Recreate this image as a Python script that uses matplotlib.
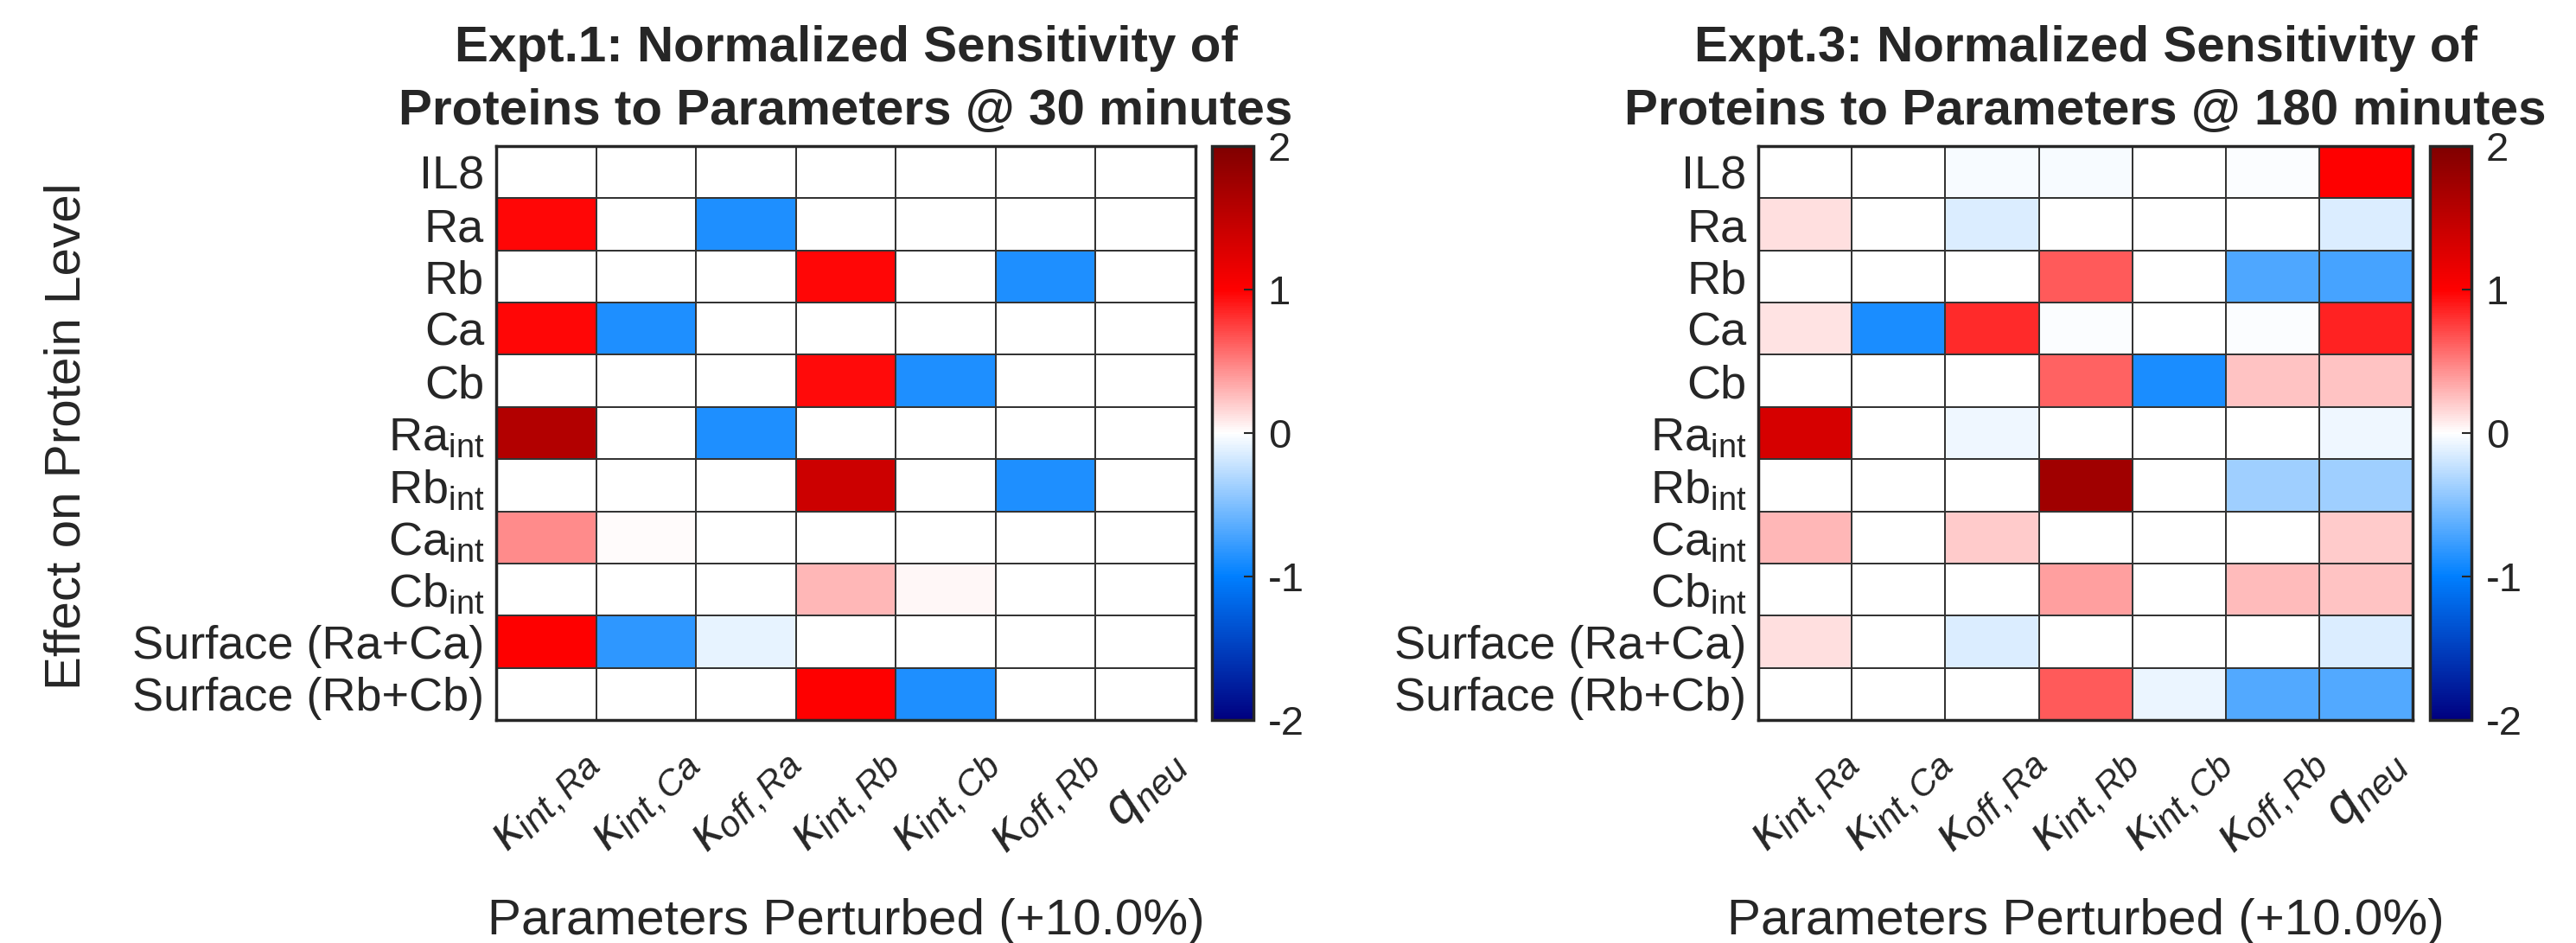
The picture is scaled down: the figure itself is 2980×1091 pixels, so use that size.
import numpy as np
import matplotlib
matplotlib.use('Agg')
import matplotlib.pyplot as plt
from matplotlib.colors import LinearSegmentedColormap

plt.rcParams['font.family'] = ['Liberation Sans', 'DejaVu Sans']
plt.rcParams['mathtext.fontset'] = 'custom'
plt.rcParams['mathtext.rm'] = 'Liberation Sans'
plt.rcParams['mathtext.it'] = 'Liberation Sans:italic'
plt.rcParams['mathtext.bf'] = 'Liberation Sans:bold'
plt.rcParams['axes.unicode_minus'] = False
plt.rcParams['text.color'] = '#262626'

# row / column labels
proteins = ['IL8', 'Ra', 'Rb', 'Ca', 'Cb',
            r'Ra$_{\mathrm{int}}$', r'Rb$_{\mathrm{int}}$',
            r'Ca$_{\mathrm{int}}$', r'Cb$_{\mathrm{int}}$',
            'Surface (Ra+Ca)', 'Surface (Rb+Cb)']
params = [r'$\kappa_{int,Ra}$', r'$\kappa_{int,Ca}$', r'$\kappa_{off,Ra}$',
          r'$\kappa_{int,Rb}$', r'$\kappa_{int,Cb}$', r'$\kappa_{off,Rb}$',
          r'$q_{neu}$']

# normalized sensitivities, Expt.1 @ 30 min (rows = proteins, cols = params)
sens_30 = np.array([
    [0.00,  0.00,  0.00,  0.00,  0.00,  0.00, 0.00],
    [0.98,  0.00, -0.88,  0.00,  0.00,  0.00, 0.00],
    [0.00,  0.00,  0.00,  0.97,  0.00, -0.88, 0.00],
    [0.97, -0.88,  0.00,  0.00,  0.00,  0.00, 0.00],
    [0.00,  0.00,  0.00,  0.96, -0.88,  0.00, 0.00],
    [1.60,  0.00, -0.88,  0.00,  0.00,  0.00, 0.00],
    [0.00,  0.00,  0.00,  1.40,  0.00, -0.88, 0.00],
    [0.46,  0.02,  0.00,  0.00,  0.00,  0.00, 0.00],
    [0.00,  0.00,  0.00,  0.29,  0.03,  0.00, 0.00],
    [1.00, -0.82, -0.10,  0.00,  0.00,  0.00, 0.00],
    [0.00,  0.00,  0.00,  1.00, -0.88,  0.00, 0.00],
])

# normalized sensitivities, Expt.3 @ 180 min
sens_180 = np.array([
    [0.00,  0.00, -0.03, -0.03,  0.00, -0.02,  1.00],
    [0.12,  0.00, -0.14,  0.00,  0.00,  0.00, -0.14],
    [0.00,  0.00,  0.00,  0.65,  0.00, -0.69, -0.72],
    [0.11, -0.90,  0.83, -0.02,  0.00, -0.02,  0.86],
    [0.00,  0.00,  0.00,  0.61, -0.90,  0.23,  0.23],
    [1.32,  0.00, -0.07,  0.00,  0.00,  0.00, -0.07],
    [0.00,  0.00,  0.00,  1.74,  0.00, -0.38, -0.38],
    [0.29,  0.00,  0.21,  0.00,  0.00,  0.00,  0.21],
    [0.00,  0.00,  0.00,  0.38,  0.00,  0.27,  0.24],
    [0.12,  0.00, -0.14,  0.00,  0.00,  0.00, -0.14],
    [0.00,  0.00,  0.00,  0.65, -0.08, -0.67, -0.67],
])

titles = ['Expt.1: Normalized Sensitivity of\nProteins to Parameters @ 30 minutes',
          'Expt.3: Normalized Sensitivity of\nProteins to Parameters @ 180 minutes']

# odd N so that 0 lands exactly on white
cmap = LinearSegmentedColormap.from_list(
    'bwr_matlab', [(0, 0, 0.5), (0, 0.5, 1), (1, 1, 1), (1, 0, 0), (0.5, 0, 0)], N=255)

fig = plt.figure(figsize=(29.8, 10.91), dpi=100)

ax_pos = [[0.1926, 0.2365, 0.2715, 0.6086], [0.6826, 0.2365, 0.2540, 0.6086]]
cb_pos = [[0.4705, 0.2365, 0.0161, 0.6086], [0.9433, 0.2365, 0.0161, 0.6086]]

for i, data in enumerate([sens_30, sens_180]):
    ax = fig.add_axes(ax_pos[i])
    mesh = ax.pcolormesh(data, cmap=cmap, vmin=-2, vmax=2,
                         edgecolors='#333333', linewidth=1.3)
    ax.set_xlim(0, len(params))
    ax.set_ylim(len(proteins), 0)
    ax.set_xticks(np.arange(len(params)) + 0.5)
    ax.set_xticklabels(params, rotation=45, ha='center', va='top', fontsize=43)
    ax.set_yticks(np.arange(len(proteins)) + 0.5)
    ax.set_yticklabels(proteins, fontsize=39)
    ax.tick_params(axis='x', length=0, pad=16, colors='#262626')
    ax.tick_params(axis='y', length=0, pad=10, colors='#262626')
    for s in ax.spines.values():
        s.set_linewidth(2.5)
        s.set_color('#262626')
    ax.set_title(titles[i], fontsize=42, fontweight='bold', pad=18,
                 color='#262626', linespacing=1.45)
    ax.set_xlabel('Parameters Perturbed (+10.0%)', fontsize=42, color='#262626')
    ax.xaxis.set_label_coords(0.5, -0.31)
    ax.xaxis.label.set_va('top')

    cax = fig.add_axes(cb_pos[i])
    cb = fig.colorbar(mesh, cax=cax, ticks=[-2, -1, 0, 1, 2])
    cb.outline.set_linewidth(2.5)
    cb.outline.set_edgecolor('#262626')
    cax.tick_params(direction='in', length=8, width=1.5, labelsize=34, pad=12, colors='#262626')

fig.text(78 / 2980, 1 - 505 / 1091, 'Effect on Protein Level', rotation=90,
         ha='center', va='center', fontsize=42, color='#262626')

fig.savefig('out.png', dpi=100, facecolor='white')
